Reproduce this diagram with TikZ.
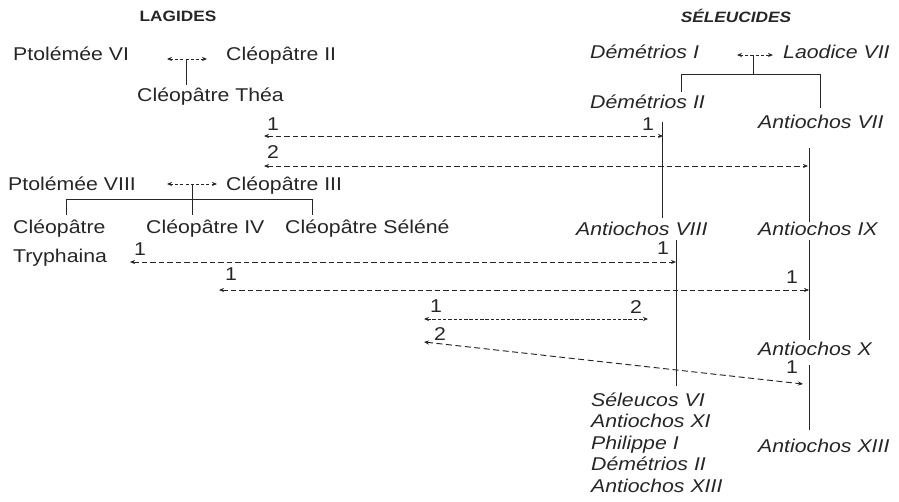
\documentclass[tikz,border=0pt]{standalone}
\usepackage{fontspec}
\setmainfont{Liberation Sans}[FakeStretch=1.15]
\usetikzlibrary{arrows.meta}
\definecolor{ink}{HTML}{262626}
\begin{document}
\begin{tikzpicture}[x=1pt,y=-1pt,
  lbl/.style={anchor=base west,inner sep=0pt,text=ink,font=\fontsize{18.5}{22}\selectfont},
  sel/.style={lbl,font=\fontsize{18.5}{22}\selectfont\itshape},
  head/.style={anchor=base,inner sep=0pt,text=ink,font=\fontsize{15}{17}\selectfont\bfseries},
  kin/.style={draw=ink,line width=1pt},
  tip/.tip={Stealth[length=5pt,width=4.2pt]},
  wed/.style={draw=ink,line width=0.95pt,tip-tip,dash pattern=on 3pt off 2.2pt},
  link/.style={draw=ink,line width=0.95pt,tip-tip,dash pattern=on 5.5pt off 3pt},
  fine/.style={draw=ink,line width=0.95pt,tip-tip,dash pattern=on 3.5pt off 1.8pt},
]
\useasboundingbox (0,0) rectangle (899,501);

% headings
\node[head] (lag) at (178,21) {LAGIDES};
\node[head,font=\fontsize{15}{17}\selectfont\bfseries\itshape] (seleu) at (736,22) {SÉLEUCIDES};

% Lagides
\node[lbl] (p6) at (13,60) {Ptolémée VI};
\node[lbl] (c2) at (226,60) {Cléopâtre II};
\node[lbl] (cthea) at (137,101) {Cléopâtre Théa};
\node[lbl] (p8) at (8,190) {Ptolémée VIII};
\node[lbl] (c3) at (226,190) {Cléopâtre III};
\node[lbl] (ctry) at (13,233) {Cléopâtre};
\node[lbl] (ctryb) at (13,262) {Tryphaina};
\node[lbl] (c4) at (146,233) {Cléopâtre IV};
\node[lbl] (csel) at (285,233) {Cléopâtre Séléné};

% Seleucides
\node[sel] (d1) at (590,58) {Démétrios I};
\node[sel] (l7) at (783,58) {Laodice VII};
\node[sel] (d2) at (590,108) {Démétrios II};
\node[sel] (a7) at (758,128) {Antiochos VII};
\node[sel] (a8) at (576,235) {Antiochos VIII};
\node[sel] (a9) at (758,235) {Antiochos IX};
\node[sel] (a10) at (758,355) {Antiochos X};
\node[sel] (a13) at (758,452) {Antiochos XIII};
\node[sel] (s6) at (591,406) {Séleucos VI};
\node[sel] (a11) at (591,427.5) {Antiochos XI};
\node[sel] (ph1) at (591,449) {Philippe I};
\node[sel] (d2b) at (591,470.5) {Démétrios II};
\node[sel] (a13b) at (591,492) {Antiochos XIII};

% order numbers
\node[lbl] (n1) at (267,130) {1};
\node[lbl] (n2) at (267,158) {2};
\node[lbl] (n3) at (642,130) {1};
\node[lbl] (n4) at (134,255) {1};
\node[lbl] (n5) at (657,254) {1};
\node[lbl] (n6) at (225,280) {1};
\node[lbl] (n7) at (786,283) {1};
\node[lbl] (n8) at (430,312) {1};
\node[lbl] (n9) at (630,313) {2};
\node[lbl] (n10) at (434,340) {2};
\node[lbl] (n11) at (786,373) {1};

% couple Ptolemee VI - Cleopatre II
\coordinate (w1l) at (167,59);
\coordinate (w1r) at (207,59);
\coordinate (w1m) at (186,59);
\coordinate (w1d) at (186,85);
\draw[wed] (w1l) -- (w1r);
\draw[kin] (w1m) -- (w1d);

% couple Ptolemee VIII - Cleopatre III
\coordinate (w2l) at (167,184);
\coordinate (w2r) at (217,184);
\coordinate (w2m) at (192,184);
\coordinate (w2d) at (192,215);
\coordinate (br2l) at (66,199);
\coordinate (br2r) at (312,199);
\coordinate (br2ld) at (66,215);
\coordinate (br2rd) at (312,215);
\draw[wed] (w2l) -- (w2r);
\draw[kin] (w2m) -- (w2d);
\draw[kin] (br2ld) -- (br2l) -- (br2r) -- (br2rd);

% couple Demetrios I - Laodice VII
\coordinate (w3l) at (737,55);
\coordinate (w3r) at (773,55);
\coordinate (w3m) at (753,55);
\coordinate (w3d) at (753,74);
\coordinate (br3l) at (681,74);
\coordinate (br3r) at (820,74);
\coordinate (br3ld) at (681,92);
\coordinate (br3rd) at (820,108);
\draw[wed] (w3l) -- (w3r);
\draw[kin] (w3m) -- (w3d);
\draw[kin] (br3ld) -- (br3l) -- (br3r) -- (br3rd);

% Seleucid descent lines
\coordinate (v1t) at (662,122);
\coordinate (v1b) at (662,218);
\coordinate (v2t) at (676,240);
\coordinate (v2b) at (676,386);
\coordinate (v3t) at (809,148);
\coordinate (v3b) at (809,222);
\coordinate (v4t) at (809,240);
\coordinate (v4b) at (809,340);
\coordinate (v5t) at (809,365);
\coordinate (v5b) at (809,430);
\draw[kin] (v1t) -- (v1b);
\draw[kin] (v2t) -- (v2b);
\draw[kin] (v3t) -- (v3b);
\draw[kin] (v4t) -- (v4b);
\draw[kin] (v5t) -- (v5b);

% marriages between dynasties
\coordinate (m1l) at (264,136);
\coordinate (m1r) at (663,136);
\coordinate (m2l) at (264,166);
\coordinate (m2r) at (808,166);
\coordinate (m3l) at (130,262);
\coordinate (m3r) at (676,262);
\coordinate (m4l) at (219,290);
\coordinate (m4r) at (809,290);
\coordinate (m5l) at (424,319);
\coordinate (m5r) at (648,319);
\coordinate (m6l) at (424,342);
\coordinate (m6r) at (803,384);
\draw[link] (m1l) -- (m1r);
\draw[link] (m2l) -- (m2r);
\draw[link] (m3l) -- (m3r);
\draw[link] (m4l) -- (m4r);
\draw[fine] (m5l) -- (m5r);
\draw[link,dash pattern=on 6pt off 3.5pt] (m6l) -- (m6r);
\end{tikzpicture}
\end{document}
